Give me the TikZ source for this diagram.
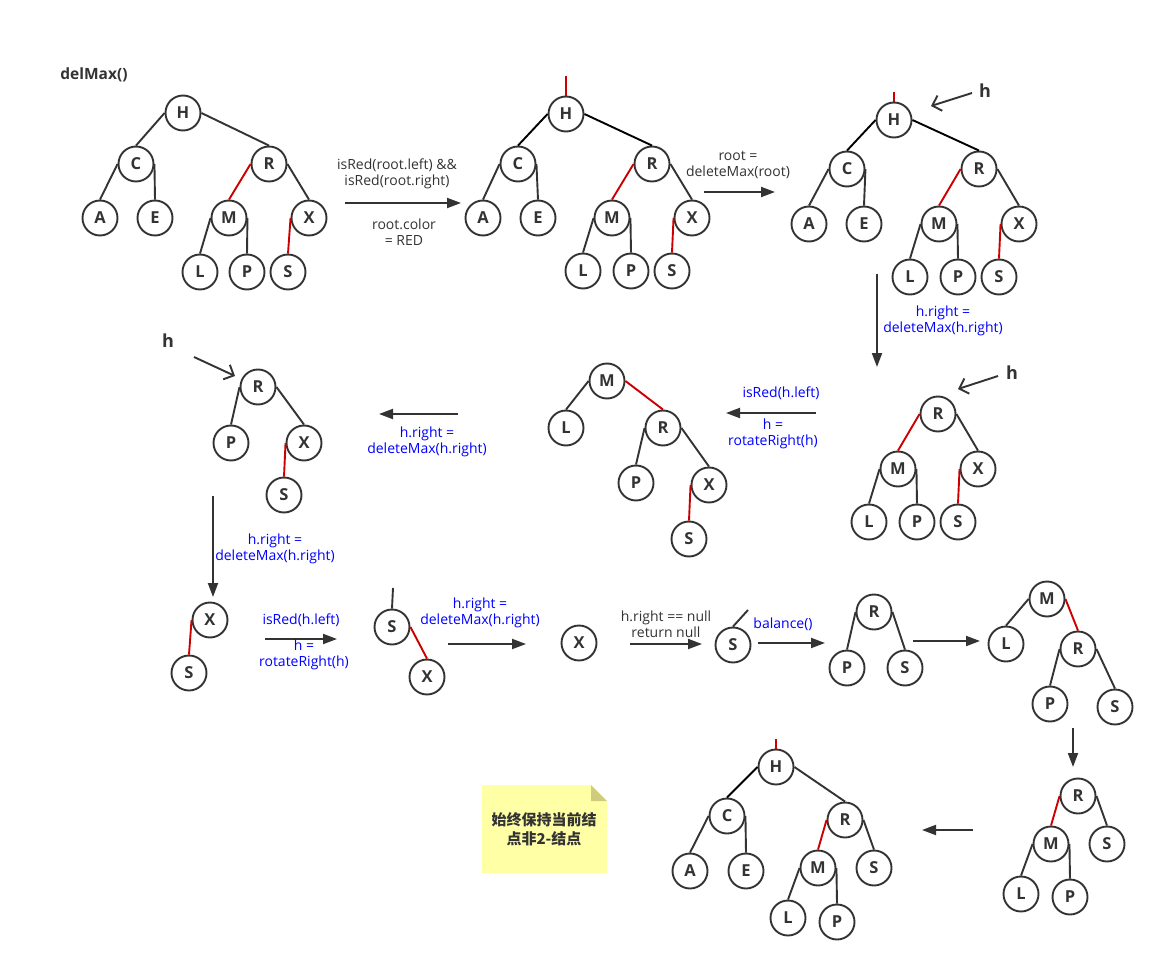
\documentclass[tikz,border=0pt]{standalone}
\usepackage{fontspec}
\setmainfont{Open Sans}
\newfontfamily\cjkfont{Noto Sans CJK SC}
\usetikzlibrary{arrows.meta}
\definecolor{ink}{HTML}{333333}
\definecolor{redline}{HTML}{CC0000}
\definecolor{bluetxt}{HTML}{0000FF}
\definecolor{notefill}{HTML}{FFFFA6}
\definecolor{foldfill}{HTML}{CCCC7A}

\begin{document}
\begin{tikzpicture}[x=1pt, y=-1pt,
  vtx/.style={circle, draw=ink, line width=1.9pt, fill=white, minimum size=35pt,
              inner sep=0pt, text=ink, font=\fontsize{16.5}{18}\selectfont\bfseries},
  edge/.style={draw=ink, line width=1.9pt},
  redge/.style={draw=redline, line width=1.9pt},
  flow/.style={draw=ink, line width=2pt, -{Triangle[length=14pt,width=10pt]}},
  hptr/.style={draw=ink, line width=1.9pt, -{Straight Barb[length=8pt,width=16pt]}},
  lbl/.style={align=center, text=ink, inner sep=0pt, font=\fontsize{14}{16}\selectfont},
  bluelbl/.style={lbl, text=bluetxt},
  hname/.style={text=ink, inner sep=0pt, font=\fontsize{18}{20}\selectfont\bfseries}]
  \path[use as bounding box, fill=white] (0,0) rectangle (1165,971);

  \node[text=ink, font=\fontsize{15.5}{17}\selectfont\bfseries] (title) at (94,75) {delMax()};

  % the trees, step by step
  \foreach \n/\x/\y in {H/183/113, C/136/164, R/269/164, A/100/218, E/155/218,
                        M/229/218, X/309/218, L/200/272, P/247/272, S/288/272}
    \node[vtx] (s1\n) at (\x,\y) {\n};
  \foreach \n/\x/\y in {H/566/114, C/518/164, R/652/164, A/483/218, E/538/218,
                        M/612/218, X/692/218, L/583/271, P/631/271, S/672/271}
    \node[vtx] (s2\n) at (\x,\y) {\n};
  \foreach \n/\x/\y in {H/894/120, C/847/169, R/979/169, A/809/224, E/864/224,
                        M/939/224, X/1019/224, L/910/277, P/958/277, S/999/277}
    \node[vtx] (s3\n) at (\x,\y) {\n};
  \foreach \n/\x/\y in {R/938/414, M/898/469, X/978/469, L/869/522, P/917/522, S/958/522}
    \node[vtx] (s4\n) at (\x,\y) {\n};
  \foreach \n/\x/\y in {M/607/381, L/566/428, R/663/428, P/636/483, X/709/485, S/689/539}
    \node[vtx] (s5\n) at (\x,\y) {\n};
  \foreach \n/\x/\y in {R/258/387, P/231/443, X/304/443, S/284/495}
    \node[vtx] (s6\n) at (\x,\y) {\n};
  \foreach \n/\x/\y in {X/210/620, S/189/673}
    \node[vtx] (s7\n) at (\x,\y) {\n};
  \foreach \n/\x/\y in {S/392/627, X/427/677}
    \node[vtx] (s8\n) at (\x,\y) {\n};
  \node[vtx] (s9X) at (579,643) {X};
  \node[vtx] (s10S) at (733,645) {S};
  \foreach \n/\x/\y in {R/874/612, P/847/668, S/905/668}
    \node[vtx] (s11\n) at (\x,\y) {\n};
  \foreach \n/\x/\y in {M/1047/599, L/1006/644, R/1078/649, P/1050/704, S/1115/707}
    \node[vtx] (s12\n) at (\x,\y) {\n};
  \foreach \n/\x/\y in {R/1078/796, M/1051/844, S/1107/844, L/1021/894, P/1070/897}
    \node[vtx] (s13\n) at (\x,\y) {\n};
  \foreach \n/\x/\y in {H/776/767, C/727/816, R/845/820, A/690/871, E/746/871,
                        M/818/868, S/874/868, L/788/918, P/837/922}
    \node[vtx] (s14\n) at (\x,\y) {\n};

  % links: parent side -> child top
  \foreach \t/\p/\a/\c in {s1/H/west/C, s1/H/east/R, s1/C/west/A, s1/C/east/E,
      s1/R/east/X, s1/M/west/L, s1/M/east/P,
      s2/C/west/A, s2/C/east/E, s2/R/east/X, s2/M/west/L, s2/M/east/P,
      s3/C/west/A, s3/C/east/E, s3/R/east/X, s3/M/west/L, s3/M/east/P,
      s4/R/east/X, s4/M/west/L, s4/M/east/P,
      s5/M/west/L, s5/R/west/P, s5/R/east/X,
      s6/R/west/P, s6/R/east/X,
      s11/R/west/P, s11/R/east/S,
      s12/M/west/L, s12/R/west/P, s12/R/east/S,
      s13/R/east/S, s13/M/west/L, s13/M/east/P,
      s14/C/west/A, s14/C/east/E, s14/R/east/S, s14/M/west/L, s14/M/east/P}
    \draw[edge] (\t\p.\a) -- (\t\c.north);
  \foreach \t in {s2, s3, s14}
    \draw[edge, draw=black] (\t H.west) -- (\t C.north);
  \foreach \t in {s2, s3}
    \draw[edge, draw=black] (\t H.east) -- (\t R.north);
  \draw[edge] (s14H.east) -- (s14R.north);
  \foreach \t/\p/\a/\c in {s1/R/west/M, s1/X/west/S, s2/R/west/M, s2/X/west/S,
      s3/R/west/M, s3/X/west/S, s4/R/west/M, s4/X/west/S,
      s5/M/east/R, s5/X/west/S, s6/X/west/S, s7/X/west/S, s8/S/east/X,
      s12/M/east/R, s13/R/west/M, s14/R/west/M}
    \draw[redge] (\t\p.\a) -- (\t\c.north);

  % links to the parent above
  \coordinate (up2) at (566,76);
  \coordinate (up3) at (894,92);
  \coordinate (up14) at (776,739);
  \coordinate (up8) at (393,588);
  \coordinate (up10) at (748,610);
  \draw[redge] (up2) -- (s2H.north);
  \draw[redge] (up3) -- (s3H.north);
  \draw[redge] (up14) -- (s14H.north);
  \draw[edge] (up8) -- (s8S.north);
  \draw[edge] (s10S.north) -- (up10);

  % h pointers
  \node[hname] (h3) at (985,91) {h};
  \node[hname] (h4) at (1012,373) {h};
  \node[hname] (h6) at (168,341) {h};
  \coordinate (h3a) at (972,93);  \coordinate (h3b) at (931,106);
  \coordinate (h4a) at (998,376); \coordinate (h4b) at (958,389);
  \coordinate (h6a) at (194,357); \coordinate (h6b) at (235,376);
  \draw[hptr] (h3a) -- (h3b);
  \draw[hptr] (h4a) -- (h4b);
  \draw[hptr] (h6a) -- (h6b);

  % steps
  \foreach \i/\xa/\ya/\xb/\yb in {1/345/203/461/203, 2/704/192/775/192,
      3/877/274/877/367, 4/816/413/726/413, 5/458/414/379/414,
      6/213/496/213/597, 7/265/639/337/639, 8/448/644/526/644,
      9/630/644/702/644, 10/758/643/825/643, 11/913/641/980/641,
      12/1073/728/1073/767, 13/973/830/922/830} {
    \coordinate (f\i a) at (\xa,\ya);
    \coordinate (f\i b) at (\xb,\yb);
    \draw[flow] (f\i a) -- (f\i b);
  }

  \node[lbl] (c1) at (397,174) {isRed(root.left) \&\&\\isRed(root.right)};
  \node[lbl] (c1b) at (404,232) {root.color\\= RED};
  \node[lbl] (c2) at (738,165) {root =\\deleteMax(root)};
  \node[bluelbl] (c3) at (943,321) {h.right =\\deleteMax(h.right)};
  \node[bluelbl] (c4) at (781,393) {isRed(h.left)};
  \node[bluelbl] (c4b) at (773,434) {h =\\rotateRight(h)};
  \node[bluelbl] (c5) at (427,442) {h.right =\\deleteMax(h.right)};
  \node[bluelbl] (c6) at (275,549) {h.right =\\deleteMax(h.right)};
  \node[bluelbl] (c7) at (301,620) {isRed(h.left)};
  \node[bluelbl] (c7b) at (304,655) {h =\\rotateRight(h)};
  \node[bluelbl] (c8) at (480,613) {h.right =\\deleteMax(h.right)};
  \node[lbl] (c9) at (666,624) {h.right == null\\return null};
  \node[bluelbl] (c10) at (783,624) {balance()};

  % note
  \fill[notefill] (482,785) -- (591,785) -- (607,801) -- (607,873) -- (482,873) -- cycle;
  \fill[foldfill] (591,785) -- (607,801) -- (591,801) -- cycle;
  \node[align=center, text=ink, inner sep=0pt, font=\cjkfont\fontsize{15}{19}\selectfont\bfseries]
    (note) at (544,829) {始终保持当前结\\点非2-结点};
\end{tikzpicture}
\end{document}
